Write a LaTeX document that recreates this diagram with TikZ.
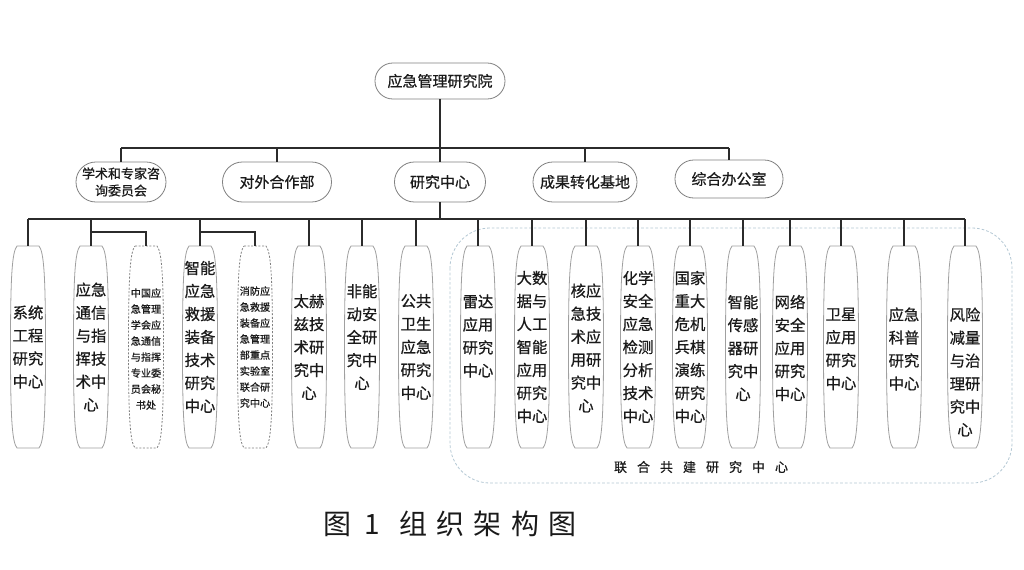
\documentclass[tikz,border=0pt]{standalone}
\usepackage{fontspec}
\setmainfont{Noto Sans CJK SC}
\newfontfamily\boxfont{Noto Sans CJK SC}[FakeBold=0.6]
\usetikzlibrary{calc}
\definecolor{txt}{HTML}{1A1A1A}
\definecolor{outl}{HTML}{808080}
\definecolor{leafc}{HTML}{A0A0A0}
\definecolor{conncol}{HTML}{2B2B2B}
\definecolor{jointc}{HTML}{B4C8D4}
\tikzset{
 unit/.style={draw=outl, line width=0.6pt, text=txt, inner sep=0pt, align=center, font=\boxfont\fontsize{11.25pt}{13pt}\selectfont},
 rootbox/.style={unit, rounded corners=13.4pt, minimum width=97.5pt, minimum height=27pt},
 deptbox/.style={unit, rounded corners=14.9pt, minimum height=30pt},
 leafline/.style={draw=leafc, line width=0.6pt},
 leaftext/.style={text=txt, inner sep=0pt, align=center, font=\boxfont\fontsize{11.5pt}{17.25pt}\selectfont},
 smalltext/.style={font=\boxfont\fontsize{7.6pt}{12pt}\selectfont},
 dashedbox/.style={dash pattern=on 1.5pt off 1.2pt, draw=outl},
 connline/.style={draw=conncol, line width=0.9pt},
 joint/.style={draw=jointc, line width=0.6pt, dash pattern=on 2pt off 1.5pt, rounded corners=30pt},
}
% #1 name, #2 centre x, #3 text shift, #4 outline style, #5 text style, #6 text
\newcommand\leafbox[6]{%
 \begin{scope}[shift={(#2,347)}]
  \draw[leafline,#4] (-11,-101) -- (11,-101)
    .. controls (16,-95) and (17.5,-70) .. (17.5,0)
    .. controls (17.5,70) and (16,95) .. (11,101) -- (-11,101)
    .. controls (-16,95) and (-17.5,70) .. (-17.5,0)
    .. controls (-17.5,-70) and (-16,-95) .. (-11,-101) -- cycle;
  \coordinate (#1-t) at (0,-101);
  \node[leaftext,#5] (#1) at (0,#3) {#6};
 \end{scope}}
\begin{document}
\begin{tikzpicture}[x=0.75pt,y=-0.75pt]
\fill[white] (0,0) rectangle (1024,569);
\useasboundingbox (0,0) rectangle (1024,569);

% joint research centre group
\draw[joint] (450,228) rectangle (1012,483);
\node[text=txt, font=\boxfont\fontsize{9.75pt}{11pt}\selectfont] (jl) at (701,467)
  {联\kern7.5pt 合\kern7.5pt 共\kern7.5pt 建\kern7.5pt 研\kern7.5pt 究\kern7.5pt 中\kern7.5pt 心};

% root and departments
\node[rootbox] (root) at (440,81) {应急管理研究院};
\node[deptbox, minimum width=67.5pt, font=\boxfont\fontsize{9.75pt}{12.75pt}\selectfont] (d1) at (121,182) {学术和专家咨\\询委员会};
\node[deptbox, minimum width=81.75pt] (d2) at (277,182) {对外合作部};
\node[deptbox, minimum width=68.25pt] (d3) at (440,182) {研究中心};
\node[deptbox, minimum width=78pt] (d4) at (585,182) {成果转化基地};
\node[deptbox, minimum width=81pt, minimum height=28.5pt, rounded corners=14.1pt] (d5) at (729,179) {综合办公室};

% leaves
\leafbox{s1}{28}{0}{}{}{系统\\工程\\研究\\中心}
\leafbox{s2}{91}{0}{}{}{应急\\通信\\与指\\挥技\\术中\\心}
\leafbox{s3}{146}{2}{dashedbox}{smalltext}{中国应\\急管理\\学会应\\急通信\\与指挥\\专业委\\员会秘\\书处}
\leafbox{s4}{200}{-10}{}{}{智能\\应急\\救援\\装备\\技术\\研究\\中心}
\leafbox{s5}{255}{0}{dashedbox}{smalltext}{消防应\\急救援\\装备应\\急管理\\部重点\\实验室\\联合研\\究中心}
\leafbox{s6}{309}{0}{}{}{太赫\\兹技\\术研\\究中\\心}
\leafbox{s7}{362}{-10}{}{}{非能\\动安\\全研\\究中\\心}
\leafbox{s8}{416}{0}{}{}{公共\\卫生\\应急\\研究\\中心}
\leafbox{s9}{478}{-11}{}{}{雷达\\应用\\研究\\中心}
\leafbox{s10}{532}{0}{}{}{大数\\据与\\人工\\智能\\应用\\研究\\中心}
\leafbox{s11}{586}{1}{}{}{核应\\急技\\术应\\用研\\究中\\心}
\leafbox{s12}{638}{0}{}{}{化学\\安全\\应急\\检测\\分析\\技术\\中心}
\leafbox{s13}{690}{0}{}{}{国家\\重大\\危机\\兵棋\\演练\\研究\\中心}
\leafbox{s14}{743}{1}{}{}{智能\\传感\\器研\\究中\\心}
\leafbox{s15}{790}{1}{}{}{网络\\安全\\应用\\研究\\中心}
\leafbox{s16}{841}{2}{}{}{卫星\\应用\\研究\\中心}
\leafbox{s17}{904}{2}{}{}{应急\\科普\\研究\\中心}
\leafbox{s18}{965}{25}{}{}{风险\\减量\\与治\\理研\\究中\\心}

% connectors: level 1
\coordinate (j1) at (440,148);
\draw[connline] (root.south) -- (j1);
\draw[connline] (d1.north |- j1) -- (d5.north |- j1);
\foreach \n in {d1,d2,d4,d5} \draw[connline] (\n.north |- j1) -- (\n.north);
\draw[connline] (j1) -- (d3.north);

% connectors: level 2
\coordinate (j2) at (440,219);
\coordinate (k) at (0,232);
\draw[connline] (d3.south) -- (j2);
\draw[connline] (s1-t |- j2) -- (s18-t |- j2);
\foreach \n in {s1,s2,s4,s6,s7,s8,s9,s10,s11,s12,s13,s14,s15,s16,s17,s18}
  \draw[connline] (\n-t |- j2) -- (\n-t);
\draw[connline] (s2-t |- k) -| (s3-t);
\draw[connline] (s4-t |- k) -| (s5-t);

% caption
\node[text=txt, font=\fontsize{21pt}{24pt}\selectfont] (cap) at (450,524)
  {图\kern10pt 1\kern14pt 组\kern7pt 织\kern7pt 架\kern7pt 构\kern7pt 图};
\end{tikzpicture}
\end{document}
